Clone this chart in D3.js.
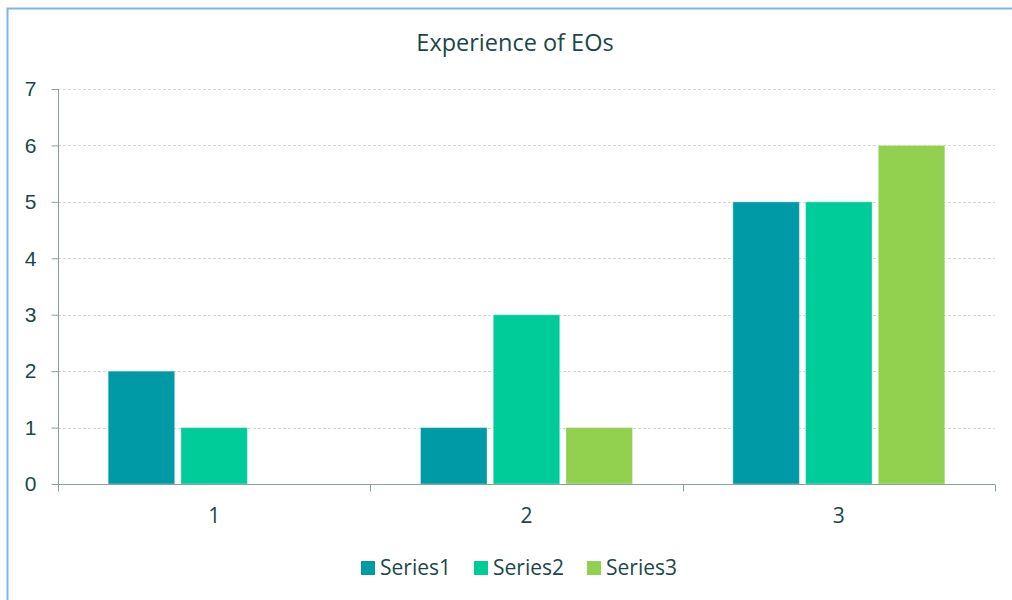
<!DOCTYPE html>
<html>
<head>
<meta charset="utf-8">
<script src="https://cdn.jsdelivr.net/npm/d3@7"></script>
<style>
  body { margin: 0; background: #fff; }
  svg { display: block; font-family: "Open Sans", "Noto Sans", sans-serif; }
</style>
</head>
<body>
<div id="chart"></div>
<script>
const categories = ["1", "2", "3"];
const seriesNames = ["Series1", "Series2", "Series3"];
const series1 = [2, 1, 5];
const series2 = [1, 3, 5];
const series3 = [0, 1, 6];
const yTicks = [0, 1, 2, 3, 4, 5, 6, 7];
const colors = ["#009aa6", "#00cc99", "#92d050"];

const width = 1012, height = 600;
const margin = { left: 58, right: 1012 - 995, top: 89, bottom: 600 - 484 };
const textColor = "#1a4848";
const axisColor = "#8aa0a0";

const svg = d3.select("#chart").append("svg")
    .attr("width", width)
    .attr("height", height);

// outer frame
svg.append("rect")
    .attr("x", 7.5).attr("y", 8.5)
    .attr("width", width + 20).attr("height", height + 20)
    .attr("fill", "none")
    .attr("stroke", "#7fb5e8")
    .attr("stroke-width", 2);

const x0 = d3.scaleBand()
    .domain(categories)
    .range([margin.left, width - margin.right])
    .padding(0);

const x1 = d3.scaleBand()
    .domain(seriesNames)
    .range([0, x0.bandwidth()])
    .paddingInner(0.085)
    .paddingOuter(0.69);

const y = d3.scaleLinear()
    .domain([0, 7])
    .range([height - margin.bottom, margin.top]);

// gridlines
svg.append("g")
    .selectAll("line")
    .data(yTicks.filter(d => d > 0))
    .enter().append("line")
    .attr("x1", margin.left).attr("x2", width - margin.right)
    .attr("y1", d => Math.round(y(d)) + 0.5).attr("y2", d => Math.round(y(d)) + 0.5)
    .attr("stroke", "#cfd6d6")
    .attr("stroke-dasharray", "3,2");

const table = categories.map((c, i) => ({
    cat: c,
    values: [series1[i], series2[i], series3[i]].map((v, j) => ({ name: seriesNames[j], value: v, color: colors[j] }))
}));

svg.append("g")
    .selectAll("g")
    .data(table)
    .enter().append("g")
    .attr("transform", d => `translate(${x0(d.cat)},0)`)
    .selectAll("rect")
    .data(d => d.values.filter(v => v.value > 0))
    .enter().append("rect")
    .attr("x", d => x1(d.name))
    .attr("width", x1.bandwidth())
    .attr("y", d => y(d.value))
    .attr("height", d => y(0) - y(d.value))
    .attr("fill", d => d.color)
    .attr("stroke", "#ffffff")
    .attr("stroke-opacity", 0.35)
    .attr("stroke-width", 1);

// y axis
const yAxis = svg.append("g")
    .attr("transform", `translate(${margin.left + 0.5},0)`)
    .call(d3.axisLeft(y).tickValues(yTicks).tickSize(7).tickPadding(15).tickFormat(d3.format("d")));
yAxis.select(".domain").remove();
yAxis.append("line")
    .attr("x1", 0).attr("x2", 0)
    .attr("y1", y(7)).attr("y2", y(0) + 7)
    .attr("stroke", axisColor);
yAxis.selectAll(".tick line").attr("stroke", axisColor);
yAxis.selectAll("text")
    .attr("fill", textColor)
    .style("font-size", "21px");

// x axis
const xAxis = svg.append("g")
    .attr("transform", `translate(0,${Math.round(y(0)) + 0.5})`);
xAxis.append("line")
    .attr("x1", margin.left).attr("x2", width - margin.right)
    .attr("stroke", axisColor);
const boundaries = categories.map(c => x0(c)).concat([x0(categories[categories.length - 1]) + x0.bandwidth()]);
xAxis.selectAll(".bt")
    .data(boundaries)
    .enter().append("line")
    .attr("x1", d => Math.round(d) + 0.5).attr("x2", d => Math.round(d) + 0.5)
    .attr("y1", 0).attr("y2", 7)
    .attr("stroke", axisColor);
xAxis.selectAll(".lbl")
    .data(categories)
    .enter().append("text")
    .attr("x", d => x0(d) + x0.bandwidth() / 2)
    .attr("y", 38)
    .attr("text-anchor", "middle")
    .attr("fill", textColor)
    .style("font-size", "21px")
    .text(d => d);

// title
svg.append("text")
    .attr("x", 515).attr("y", 51)
    .attr("text-anchor", "middle")
    .attr("fill", textColor)
    .style("font-size", "23.5px")
    .text("Experience of EOs");

// legend
const legendX = [361, 474, 587];
const legend = svg.append("g")
    .selectAll("g")
    .data(seriesNames)
    .enter().append("g")
    .attr("transform", (d, i) => `translate(${legendX[i]},561)`);
legend.append("rect")
    .attr("width", 14).attr("height", 14)
    .attr("fill", (d, i) => colors[i]);
legend.append("text")
    .attr("x", 19).attr("y", 14)
    .attr("fill", textColor)
    .style("font-size", "21px")
    .text(d => d);
</script>
</body>
</html>
